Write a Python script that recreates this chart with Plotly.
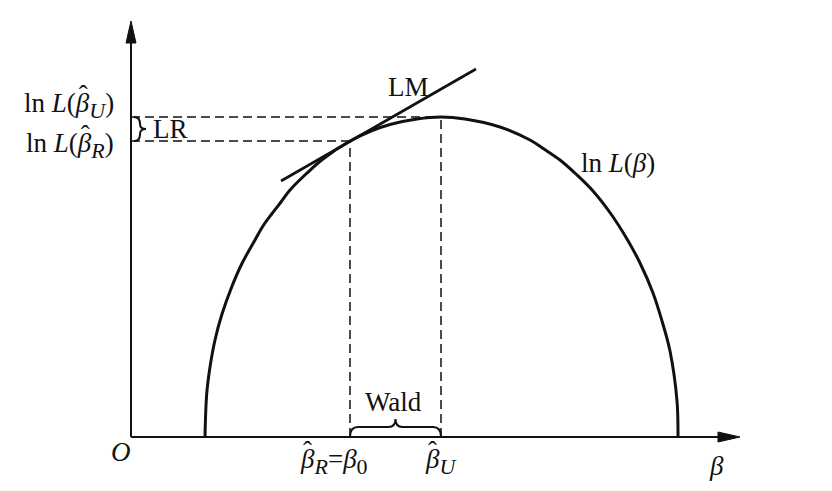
import plotly.graph_objects as go

# ln L(beta) curve (arbitrary units)
beta = [0.74, 0.757, 0.79, 0.84, 0.907, 1.007, 1.107, 1.24, 1.32, 1.407, 1.50, 1.59, 1.75,
        1.92, 2.19, 2.40, 2.59, 2.86, 3.10, 3.34, 3.69, 3.99, 4.13, 4.29, 4.46, 4.62,
        4.80, 4.96, 5.09, 5.22, 5.31, 5.39, 5.46, 5.47]
lnL = [0, 0.43, 0.70, 0.97, 1.22, 1.50, 1.73, 1.97, 2.11, 2.23, 2.35, 2.47, 2.63,
       2.78, 2.96, 3.06, 3.125, 3.18, 3.20, 3.18, 3.10, 2.97, 2.88, 2.77, 2.62, 2.46,
       2.23, 1.98, 1.74, 1.44, 1.16, 0.86, 0.36, 0]

beta_R = 2.19      # restricted estimate = beta_0
beta_U = 3.10      # unrestricted estimate
lnL_R = 2.96
lnL_U = 3.20

# LM tangent line at beta_R
lm_x = [1.50, 3.45]
lm_y = [2.56, 3.68]

axis_x_end = 5.9
axis_y_end = 4.0

FONT = "Liberation Serif"
INK = "#111111"

fig = go.Figure()

fig.add_trace(go.Scatter(x=beta, y=lnL, mode="lines",
                         line=dict(color=INK, width=3, shape="spline", smoothing=1.0),
                         hoverinfo="skip", showlegend=False))
fig.add_trace(go.Scatter(x=lm_x, y=lm_y, mode="lines",
                         line=dict(color=INK, width=2.6),
                         hoverinfo="skip", showlegend=False))

dash = dict(color=INK, width=1.5, dash="9px,5px")
shapes = [
    dict(type="line", x0=0, y0=0, x1=0, y1=axis_y_end, line=dict(color=INK, width=2)),
    dict(type="line", x0=0, y0=0, x1=axis_x_end, y1=0, line=dict(color=INK, width=2)),
    dict(type="path", path="M 0,4.16 L -0.05,3.94 L 0.05,3.94 Z",
         fillcolor=INK, line=dict(color=INK, width=1)),
    dict(type="path", path="M 6.09,0 L 5.87,0.05 L 5.87,-0.05 Z",
         fillcolor=INK, line=dict(color=INK, width=1)),
    dict(type="line", x0=0, y0=lnL_U, x1=beta_U, y1=lnL_U, line=dash),
    dict(type="line", x0=0, y0=lnL_R, x1=beta_R, y1=lnL_R, line=dash),
    dict(type="line", x0=beta_R, y0=0, x1=beta_R, y1=lnL_R, line=dash),
    dict(type="line", x0=beta_U, y0=0, x1=beta_U, y1=lnL_U, line=dash),
]

ym = (lnL_U + lnL_R) / 2
x0, xa, x1 = 0.03, 0.09, 0.15
shapes.append(dict(type="path",
                   path=(f"M {x0},{lnL_U} Q {xa},{lnL_U} {xa},{ym+0.05} "
                         f"Q {xa},{ym} {x1},{ym} Q {xa},{ym} {xa},{ym-0.05} "
                         f"Q {xa},{lnL_R} {x0},{lnL_R}"),
                   line=dict(color=INK, width=2)))

xm = (beta_R + beta_U) / 2
yt, yp = 0.10, 0.18
shapes.append(dict(type="path",
                   path=(f"M {beta_R},0 Q {beta_R},{yt} {beta_R+0.08},{yt} "
                         f"L {xm-0.07},{yt} Q {xm},{yt} {xm},{yp} "
                         f"Q {xm},{yt} {xm+0.07},{yt} L {beta_U-0.08},{yt} "
                         f"Q {beta_U},{yt} {beta_U},0"),
                   line=dict(color=INK, width=2)))

fs = 27
def ann(x, y, text, xanchor="center", yanchor="middle", size=fs):
    return dict(x=x, y=y, text=text, showarrow=False, xanchor=xanchor, yanchor=yanchor,
                font=dict(family=FONT, size=size, color=INK))

def sub(t, italic=True):
    inner = f"<i>{t}</i>" if italic else t
    return f'<sub><span style="font-size:22px">{inner}</span></sub>'

def hat(x, y, prefix, dx=3, dy=10):
    # white copy of the text before the beta (hidden under the real text), then a circumflex
    return dict(x=x, y=y,
                text=f'{prefix}<span style="color:{INK};fill-opacity:1">ˆ</span>',
                showarrow=False, xanchor="left", yanchor="middle",
                xshift=dx, yshift=dy,
                font=dict(family=FONT, size=fs, color="white"))

annotations = [
    hat(-1.09, 3.32, "ln <i>L</i>("),
    hat(-1.07, 2.92, "ln <i>L</i>("),
    hat(1.67, -0.24, ""),
    hat(2.92, -0.24, ""),
    ann(-1.09, 3.32, f"ln <i>L</i>(<i>β</i>{sub('U')})", xanchor="left"),
    ann(-1.07, 2.92, f"ln <i>L</i>(<i>β</i>{sub('R')})", xanchor="left"),
    ann(0.20, 3.08, "LR", xanchor="left"),
    ann(2.77, 3.50, "LM"),
    ann(4.48, 2.74, "ln <i>L</i>(<i>β</i>)", xanchor="left"),
    ann(-0.10, -0.15, "<i>O</i>"),
    ann(5.85, -0.29, "<i>β</i>"),
    ann(1.67, -0.24, f"<i>β</i>{sub('R')}=<i>β</i>{sub('0', False)}", xanchor="left"),
    ann(2.92, -0.24, f"<i>β</i>{sub('U')}", xanchor="left"),
    ann(2.62, 0.35, "Wald"),
]

# the page body has an 8px margin, so ranges are shifted by 8px to compensate
fig.update_layout(
    width=832, height=491,
    margin=dict(l=0, r=0, t=0, b=0),
    paper_bgcolor="white", plot_bgcolor="white",
    xaxis=dict(range=[-1.23, 7.09], visible=False, fixedrange=True),
    yaxis=dict(range=[-0.62, 4.29], visible=False, fixedrange=True),
    shapes=shapes, annotations=annotations, showlegend=False,
)

fig.write_html("out.html")
